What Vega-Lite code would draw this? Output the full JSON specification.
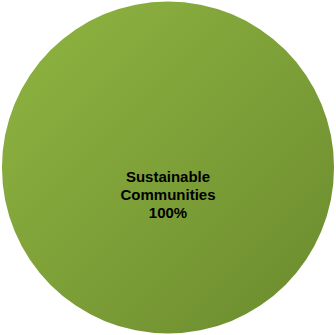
{
  "$schema": "https://vega.github.io/schema/vega-lite/v6.json",
  "width": 336,
  "height": 335,
  "autosize": {"type": "fit", "contains": "padding"},
  "padding": 0,
  "background": "white",
  "view": {"stroke": null},
  "data": {"values": [{"category": "Sustainable Communities", "value": 100, "label": ["Sustainable", "Communities", "100%"]}]},
  "layer": [
    {
      "mark": {
        "type": "arc",
        "outerRadius": 166,
        "color": {
          "gradient": "linear",
          "x1": 0, "y1": 0, "x2": 1, "y2": 1,
          "stops": [
            {"offset": 0, "color": "#8fb541"},
            {"offset": 0.5, "color": "#7ea038"},
            {"offset": 1, "color": "#6a8a2d"}
          ]
        }
      },
      "encoding": {
        "theta": {"field": "value", "type": "quantitative"}
      }
    },
    {
      "mark": {"type": "text", "font": "Liberation Sans", "fontSize": 15, "fontWeight": "bold", "color": "#000000", "lineHeight": 18, "align": "center", "baseline": "middle", "dy": 9},
      "encoding": {
        "text": {"field": "label"}
      }
    }
  ]
}
